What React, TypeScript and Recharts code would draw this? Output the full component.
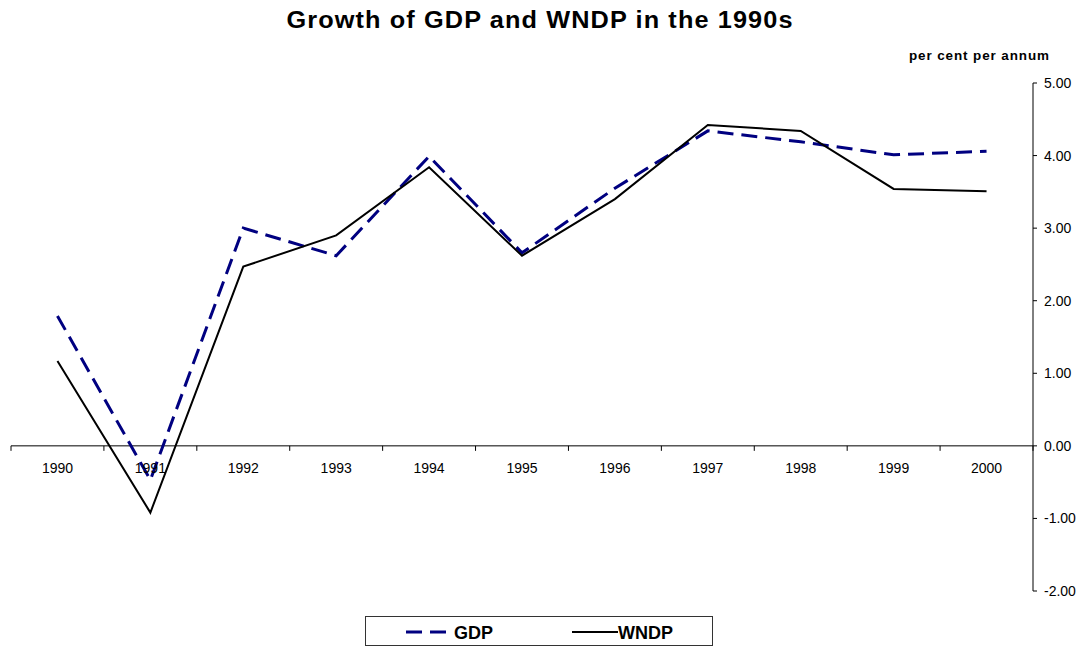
import React from 'react';
import { ComposedChart, Line, XAxis, YAxis, ReferenceLine } from 'recharts';

const YEARS = ['1990', '1991', '1992', '1993', '1994', '1995', '1996', '1997', '1998', '1999', '2000'];
const GDP = [1.79, -0.47, 3.0, 2.62, 3.99, 2.66, 3.55, 4.34, 4.19, 4.01, 4.06];
const WNDP = [1.17, -0.92, 2.47, 2.9, 3.84, 2.62, 3.4, 4.42, 4.34, 3.54, 3.51];
const Y_TICKS = [-2, -1, 0, 1, 2, 3, 4, 5];

const W = 1081;
const H = 646;
const MARGIN = { top: 83, right: 0, bottom: 25, left: 11 };
const Y_AXIS_W = 48;
const X_AXIS_H = 30;
const PLOT_W = W - MARGIN.left - MARGIN.right - Y_AXIS_W;
const PLOT_H = H - MARGIN.top - MARGIN.bottom - X_AXIS_H;
const Y_MIN = -2;
const Y_MAX = 5;
// the category axis sits on the zero line, not at the bottom of the plot
const ZERO_Y = MARGIN.top + (PLOT_H * Y_MAX) / (Y_MAX - Y_MIN);
const BAND = PLOT_W / YEARS.length;

const FONT = '"Liberation Sans", Arial, sans-serif';
const NAVY = '#000080';

const data = YEARS.map((year, i) => ({ year, gdp: GDP[i], wndp: WNDP[i] }));

const YearTick = (props: any) => {
  const { x, payload, index } = props;
  const left = x - BAND / 2;
  const right = x + BAND / 2;
  return (
    <g>
      <line x1={left} x2={left} y1={ZERO_Y} y2={ZERO_Y + 5} stroke="#000" />
      {index === YEARS.length - 1 && (
        <line x1={right} x2={right} y1={ZERO_Y} y2={ZERO_Y + 5} stroke="#000" />
      )}
      <text x={x} y={ZERO_Y + 27} textAnchor="middle" fontSize={14} fontFamily={FONT} fill="#000">
        {payload.value}
      </text>
    </g>
  );
};

export default function App() {
  return (
    <div style={{ position: 'absolute', left: 0, top: 0, width: W, height: H, background: '#fff', fontFamily: FONT }}>
      <div
        style={{
          position: 'absolute', left: 0, top: 7, width: W, textAlign: 'center',
          fontSize: 23, letterSpacing: 1, fontWeight: 'bold', color: '#000',
          transform: 'scaleX(1.1)', transformOrigin: '545px 0',
        }}
      >
        Growth of GDP and WNDP in the 1990s
      </div>
      <div
        style={{
          position: 'absolute', left: 909, top: 49, fontSize: 12, letterSpacing: 0.8,
          fontWeight: 'bold', color: '#000', whiteSpace: 'nowrap',
          transform: 'scaleX(1.12)', transformOrigin: '0 0',
        }}
      >
        per cent per annum
      </div>

      <ComposedChart width={W} height={H} data={data} margin={MARGIN}>
        <XAxis
          dataKey="year"
          height={X_AXIS_H}
          padding={{ left: BAND / 2, right: BAND / 2 }}
          axisLine={false}
          tickLine={false}
          tick={<YearTick />}
          interval={0}
        />
        <YAxis
          orientation="right"
          width={Y_AXIS_W}
          domain={[Y_MIN, Y_MAX]}
          ticks={Y_TICKS}
          tickFormatter={(v: number) => v.toFixed(2)}
          axisLine={{ stroke: '#000' }}
          tickLine={{ stroke: '#000' }}
          tickSize={4}
          tickMargin={7}
          tick={{ fontSize: 14, fill: '#000', fontFamily: FONT }}
          interval={0}
        />
        <ReferenceLine y={0} stroke="#000" strokeWidth={1} />
        <Line
          type="linear"
          dataKey="gdp"
          stroke={NAVY}
          strokeWidth={3}
          strokeDasharray="16 8"
          dot={false}
          activeDot={false}
          isAnimationActive={false}
        />
        <Line
          type="linear"
          dataKey="wndp"
          stroke="#000"
          strokeWidth={2}
          dot={false}
          activeDot={false}
          isAnimationActive={false}
        />
      </ComposedChart>

      <div
        style={{
          position: 'absolute', left: 365, top: 616, width: 346, height: 28,
          border: '1px solid #333', background: '#fff',
        }}
      >
        <svg width={346} height={28} style={{ position: 'absolute', left: 0, top: 0 }}>
          <line x1={40} x2={80} y1={15} y2={15} stroke={NAVY} strokeWidth={3} strokeDasharray="16 8" />
          <text x={88} y={22} fontSize={18} fontWeight="bold" fontFamily={FONT} fill="#000">GDP</text>
          <line x1={206} x2={252} y1={15} y2={15} stroke="#000" strokeWidth={2} />
          <text x={252} y={22} fontSize={18} fontWeight="bold" fontFamily={FONT} fill="#000">WNDP</text>
        </svg>
      </div>
    </div>
  );
}
